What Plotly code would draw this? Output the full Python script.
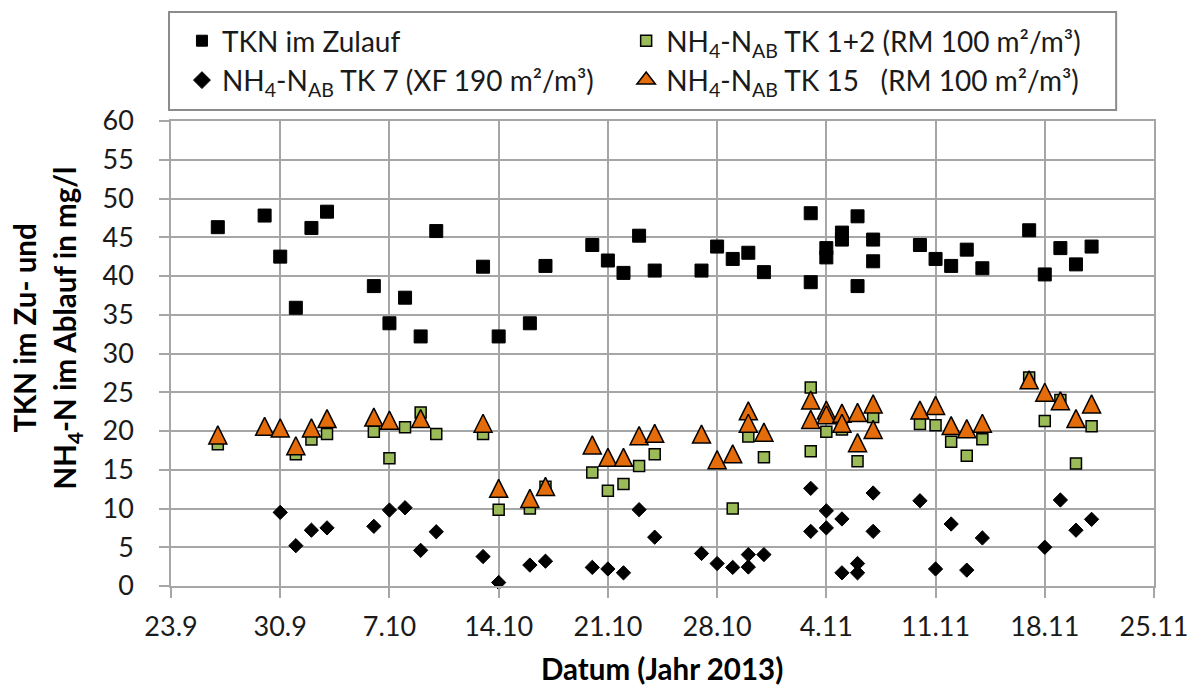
import plotly.graph_objects as go

# Sampling dates (day.month, 2013) and concentrations in mg/l
tkn_dates = ['26.9', '29.9', '30.9', '1.10', '2.10', '3.10', '6.10', '7.10', '8.10', '9.10',
             '10.10', '13.10', '14.10', '16.10', '17.10', '20.10', '21.10', '22.10', '23.10', '24.10',
             '27.10', '28.10', '29.10', '30.10', '31.10', '3.11', '3.11', '4.11', '4.11', '5.11',
             '5.11', '6.11', '6.11', '7.11', '7.11', '10.11', '11.11', '12.11', '13.11', '14.11',
             '17.11', '18.11', '19.11', '20.11', '21.11']
tkn_values = [46.3, 47.8, 42.5, 35.9, 46.2, 48.3, 38.7, 33.9, 37.2, 32.2,
              45.8, 41.2, 32.2, 33.9, 41.3, 44.0, 42.0, 40.4, 45.2, 40.7,
              40.7, 43.8, 42.2, 43.0, 40.5, 48.1, 39.2, 43.6, 42.4, 45.6,
              44.7, 47.7, 38.7, 44.7, 41.9, 44.0, 42.2, 41.3, 43.4, 41.0,
              45.9, 40.2, 43.6, 41.5, 43.8]

tk7_dates = ['30.9', '1.10', '2.10', '3.10', '6.10', '7.10', '8.10', '9.10', '10.10', '13.10',
             '14.10', '16.10', '17.10', '20.10', '21.10', '22.10', '23.10', '24.10', '27.10', '28.10',
             '29.10', '30.10', '30.10', '31.10', '3.11', '3.11', '4.11', '4.11', '5.11', '5.11',
             '6.11', '6.11', '7.11', '7.11', '10.11', '11.11', '12.11', '13.11', '14.11', '18.11',
             '19.11', '20.11', '21.11']
tk7_values = [9.5, 5.2, 7.2, 7.5, 7.7, 9.8, 10.1, 4.6, 7.0, 3.8,
              0.45, 2.7, 3.2, 2.4, 2.2, 1.7, 9.85, 6.3, 4.2, 2.9,
              2.4, 2.45, 4.05, 4.05, 12.6, 7.05, 9.7, 7.5, 8.65, 1.7,
              2.9, 1.7, 12.0, 7.05, 11.0, 2.2, 8.0, 2.05, 6.2, 5.0,
              11.1, 7.2, 8.6]

tk12_dates = ['26.9', '1.10', '2.10', '3.10', '6.10', '7.10', '8.10', '9.10', '10.10', '13.10',
              '14.10', '16.10', '17.10', '20.10', '21.10', '22.10', '23.10', '24.10', '29.10', '30.10',
              '31.10', '3.11', '3.11', '4.11', '5.11', '6.11', '7.11', '10.11', '11.11', '12.11',
              '13.11', '14.11', '17.11', '18.11', '19.11', '20.11', '21.11']
tk12_values = [18.3, 17.0, 18.9, 19.6, 19.9, 16.5, 20.5, 22.4, 19.6, 19.6,
               9.85, 10.0, 12.8, 14.65, 12.3, 13.15, 15.5, 17.0, 10.0, 19.3,
               16.6, 25.6, 17.4, 19.9, 20.2, 16.1, 21.8, 20.9, 20.75, 18.6,
               16.8, 18.95, 26.9, 21.3, 24.0, 15.8, 20.6]

tk15_dates = ['26.9', '29.9', '30.9', '1.10', '2.10', '3.10', '6.10', '7.10', '9.10', '13.10',
              '14.10', '16.10', '17.10', '20.10', '21.10', '22.10', '23.10', '24.10', '27.10', '28.10',
              '29.10', '30.10', '30.10', '31.10', '3.11', '3.11', '4.11', '4.11', '5.11', '5.11',
              '6.11', '6.11', '7.11', '7.11', '10.11', '11.11', '12.11', '13.11', '14.11', '17.11',
              '18.11', '19.11', '20.11', '21.11']
tk15_values = [19.5, 20.6, 20.4, 18.1, 20.4, 21.6, 21.8, 21.4, 21.6, 21.0,
               12.6, 11.3, 12.85, 18.2, 16.6, 16.6, 19.4, 19.7, 19.6, 16.3,
               17.05, 22.6, 21.0, 19.85, 24.0, 21.5, 22.7, 22.1, 22.3, 21.0,
               22.4, 18.5, 23.5, 20.2, 22.7, 23.3, 20.7, 20.3, 21.0, 26.6,
               25.0, 23.9, 21.6, 23.5]

x_tick_labels = ['23.9', '30.9', '7.10', '14.10', '21.10', '28.10', '4.11', '11.11', '18.11', '25.11']
y_tick_values = [0, 5, 10, 15, 20, 25, 30, 35, 40, 45, 50, 55, 60]

NAME_TKN = 'TKN im Zulauf'
NAME_TK7 = 'NH<sub>4</sub>-N<sub>AB</sub> TK 7 (XF 190 m²/m³)'
NAME_TK12 = 'NH<sub>4</sub>-N<sub>AB</sub> TK 1+2 (RM 100 m²/m³)'
NAME_TK15 = 'NH<sub>4</sub>-N<sub>AB</sub> TK 15\u00a0\u00a0\u00a0(RM 100 m²/m³)'

FONT = 'Lato'
GRID = '#a6a6a6'
TEXT = '#1a1a1a'
GREEN = '#9bbb59'
ORANGE = '#e46c0a'

W, H = 1201, 688
M_L, M_R, M_T, M_B = 171, 43, 121, 102
PW, PH = W - M_L - M_R, H - M_T - M_B


def iso(dm):
    d, m = dm.split('.')
    return f'2013-{int(m):02d}-{int(d):02d}'


def px_x(x):
    return (x - M_L) / PW


def px_y(y):
    return (H - M_B - y) / PH


fig = go.Figure()

# data series (drawn bottom to top: TKN, TK 7, TK 1+2, TK 15)
fig.add_trace(go.Scatter(
    x=[iso(d) for d in tkn_dates], y=tkn_values, mode='markers',
    name=NAME_TKN, showlegend=False, cliponaxis=False,
    marker=dict(symbol='square', size=13, color='black',
                line=dict(color='black', width=1)),
))
fig.add_trace(go.Scatter(
    x=[iso(d) for d in tk7_dates], y=tk7_values, mode='markers',
    name=NAME_TK7, showlegend=False, cliponaxis=False,
    marker=dict(symbol='diamond', size=11, color='black',
                line=dict(color='black', width=1)),
))
fig.add_trace(go.Scatter(
    x=[iso(d) for d in tk12_dates], y=tk12_values, mode='markers',
    name=NAME_TK12, showlegend=False, cliponaxis=False,
    marker=dict(symbol='square', size=11, color=GREEN,
                line=dict(color='black', width=1.5)),
))
# upward triangle centred on each value
fig.add_trace(go.Scatter(
    x=[iso(d) for d in tk15_dates], y=tk15_values, mode='markers',
    name=NAME_TK15, showlegend=False, cliponaxis=False,
    marker=dict(symbol='arrow-down', angle=180, standoff=9, size=18, color=ORANGE,
                line=dict(color='black', width=1.5)),
))

# legend entries: left column in "legend", right column in "legend2"
legend_entries = [
    (NAME_TKN, 'legend', 1, dict(symbol='square', size=11, color='black',
                                 line=dict(color='black', width=1))),
    (NAME_TK7, 'legend', 2, dict(symbol='diamond', size=13, color='black',
                                 line=dict(color='black', width=1))),
    (NAME_TK12, 'legend2', 1, dict(symbol='square', size=11, color=GREEN,
                                   line=dict(color='black', width=1.5))),
    (NAME_TK15, 'legend2', 2, dict(symbol='triangle-up', size=18, color=ORANGE,
                                   line=dict(color='black', width=1.5))),
]
for name, leg, rank, marker in legend_entries:
    fig.add_trace(go.Scatter(x=[None], y=[None], mode='markers', name=name,
                             legend=leg, legendrank=rank, marker=marker))

axis_common = dict(
    showgrid=True, gridcolor=GRID, gridwidth=1.5,
    showline=True, linecolor=GRID, linewidth=1.5, mirror=True,
    ticks='outside', ticklen=10, tickcolor=GRID, tickwidth=1.5,
    tickfont=dict(family=FONT, size=27, color=TEXT),
    zeroline=False,
)

TITLE_FONT = dict(family=FONT, size=29.5, color='black', weight='bold')
legend_common = dict(
    orientation='v', xanchor='left', y=px_y(16), yanchor='top',
    traceorder='normal', font=dict(family=FONT, size=28, color=TEXT),
    bgcolor='rgba(0,0,0,0)', borderwidth=0, tracegroupgap=0,
)

fig.update_layout(
    width=W, height=H,
    margin=dict(l=M_L, r=M_R, t=M_T, b=M_B, pad=0),
    paper_bgcolor='white', plot_bgcolor='white',
    font=dict(family=FONT, color=TEXT),
    xaxis=dict(
        type='date', range=[iso('23.9'), iso('25.11')],
        tickvals=[iso(t) for t in x_tick_labels], ticktext=x_tick_labels,
        ticklabelstandoff=6, **axis_common,
    ),
    yaxis=dict(
        range=[0, 60], tickvals=y_tick_values,
        ticktext=[str(v) for v in y_tick_values],
        ticklabelstandoff=20, **axis_common,
    ),
    legend=dict(x=px_x(182), **legend_common),
    legend2=dict(x=px_x(628), **legend_common),
    shapes=[dict(
        type='rect', xref='paper', yref='paper',
        x0=px_x(169), x1=px_x(1120), y0=px_y(110), y1=px_y(12),
        line=dict(color='#8c8c8c', width=2), fillcolor='white', layer='below',
    )],
    annotations=[
        dict(text='TKN im Zu- und', xref='paper', yref='paper',
             x=px_x(23), y=px_y(328), xanchor='center', yanchor='middle',
             textangle=-90, showarrow=False, font=TITLE_FONT),
        dict(text='NH<sub>4</sub>-N im Ablauf in mg/l', xref='paper', yref='paper',
             x=px_x(66), y=px_y(328), xanchor='center', yanchor='middle',
             textangle=-90, showarrow=False, font=TITLE_FONT),
        dict(text='Datum (Jahr 2013)', xref='paper', yref='paper',
             x=px_x(664), y=px_y(668), xanchor='center', yanchor='middle',
             showarrow=False, font=TITLE_FONT),
    ],
)

fig.write_html('out.html')
